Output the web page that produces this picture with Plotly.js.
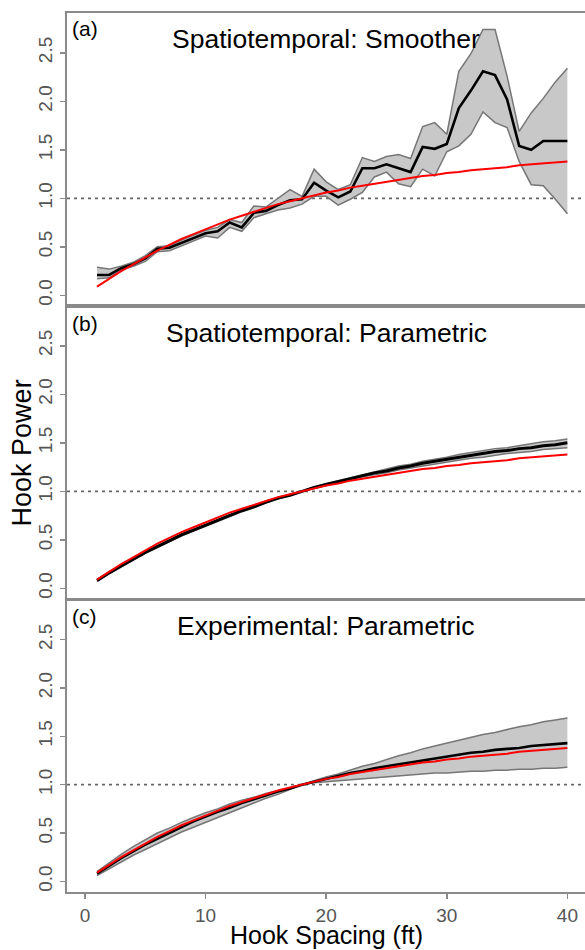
<!DOCTYPE html>
<html>
<head>
<meta charset="utf-8">
<script src="https://cdn.plot.ly/plotly-3.0.1.min.js"></script>
<style>html,body{margin:0;padding:0;background:#fff;}#chart{width:585px;height:950px;}</style>
</head>
<body>
<div id="chart"></div>
<script>
// ---------- data ----------
const hookSpacing = [1,2,3,4,5,6,7,8,9,10,11,12,13,14,15,16,17,18,19,20,
                     21,22,23,24,25,26,27,28,29,30,31,32,33,34,35,36,37,38,39,40];

// reference (red) curve, same in all panels
const refCurve = [0.09,0.17,0.25,0.32,0.39,0.46,0.52,0.58,0.63,0.68,0.73,0.78,0.82,0.86,0.90,0.94,0.97,1.00,1.03,1.06,
                  1.08,1.11,1.13,1.15,1.17,1.19,1.21,1.23,1.24,1.26,1.27,1.29,1.30,1.31,1.32,1.34,1.35,1.36,1.37,1.38];

// (a) Spatiotemporal: Smoother
const smoothFit   = [0.21,0.21,0.28,0.32,0.38,0.48,0.49,0.54,0.59,0.64,0.66,0.75,0.70,0.85,0.87,0.93,0.98,0.99,1.16,1.08,
                     1.01,1.07,1.31,1.31,1.35,1.31,1.27,1.53,1.51,1.56,1.93,2.11,2.31,2.27,2.02,1.54,1.50,1.59,1.59,1.59];
const smoothUpper = [0.29,0.27,0.30,0.34,0.41,0.50,0.51,0.57,0.62,0.67,0.70,0.78,0.75,0.92,0.91,1.00,1.09,1.02,1.30,1.17,
                     1.09,1.14,1.42,1.38,1.43,1.45,1.41,1.74,1.78,1.66,2.31,2.49,2.74,2.74,2.26,1.69,1.88,2.03,2.20,2.34];
const smoothLower = [0.17,0.18,0.26,0.30,0.35,0.45,0.46,0.51,0.56,0.61,0.59,0.70,0.66,0.80,0.84,0.88,0.90,0.94,1.02,1.02,
                     0.93,0.99,1.06,1.22,1.27,1.15,1.12,1.30,1.23,1.48,1.54,1.66,1.89,1.78,1.73,1.38,1.14,1.13,0.99,0.84];

// (b) Spatiotemporal: Parametric
const stParFit   = [0.08,0.16,0.23,0.30,0.37,0.43,0.49,0.55,0.60,0.65,0.70,0.75,0.80,0.84,0.89,0.93,0.96,1.00,1.04,1.07,
                    1.10,1.13,1.16,1.19,1.21,1.24,1.26,1.29,1.31,1.33,1.35,1.37,1.39,1.41,1.42,1.44,1.45,1.47,1.48,1.50];
const stParUpper = [0.09,0.17,0.24,0.31,0.38,0.44,0.50,0.56,0.61,0.66,0.71,0.76,0.80,0.85,0.89,0.93,0.97,1.00,1.04,1.08,
                    1.11,1.14,1.17,1.20,1.23,1.26,1.28,1.31,1.33,1.35,1.38,1.40,1.42,1.44,1.45,1.47,1.49,1.51,1.52,1.54];
const stParLower = [0.07,0.15,0.22,0.29,0.36,0.42,0.48,0.54,0.59,0.64,0.69,0.74,0.79,0.83,0.88,0.92,0.96,1.00,1.03,1.06,
                    1.09,1.12,1.15,1.17,1.19,1.22,1.24,1.26,1.28,1.30,1.32,1.34,1.35,1.37,1.39,1.40,1.41,1.43,1.44,1.45];

// (c) Experimental: Parametric
const expFit   = [0.08,0.16,0.24,0.31,0.38,0.44,0.50,0.56,0.62,0.67,0.72,0.76,0.81,0.85,0.89,0.93,0.96,1.00,1.03,1.06,
                  1.09,1.12,1.14,1.17,1.19,1.21,1.23,1.25,1.27,1.29,1.31,1.33,1.34,1.36,1.37,1.38,1.40,1.41,1.42,1.43];
const expUpper = [0.10,0.19,0.28,0.36,0.43,0.50,0.55,0.61,0.66,0.71,0.75,0.80,0.84,0.87,0.91,0.94,0.97,1.00,1.04,1.08,
                  1.11,1.15,1.19,1.22,1.26,1.30,1.33,1.37,1.40,1.43,1.46,1.49,1.52,1.54,1.57,1.60,1.62,1.65,1.67,1.69];
const expLower = [0.06,0.13,0.20,0.27,0.33,0.39,0.45,0.51,0.56,0.61,0.66,0.71,0.76,0.81,0.86,0.90,0.95,1.00,1.02,1.03,
                  1.04,1.05,1.06,1.07,1.08,1.09,1.10,1.11,1.12,1.12,1.13,1.14,1.14,1.15,1.15,1.16,1.16,1.17,1.17,1.18];

const panelTitles = ["Spatiotemporal: Smoother", "Spatiotemporal: Parametric", "Experimental: Parametric"];
const panelLabels = ["(a)", "(b)", "(c)"];
const yTickVals = [0, 0.5, 1, 1.5, 2, 2.5];
const yTickText = ["0.0", "0.5", "1.0", "1.5", "2.0", "2.5"];
const xTickVals = [0, 10, 20, 30, 40];
const xTickText = ["0", "10", "20", "30", "40"];
const refLevel = 1;
const xTitle = "Hook Spacing (ft)";
const yTitle = "Hook Power";

// ---------- styling ----------
const FONT = "Liberation Sans, Arial, Helvetica, sans-serif";
const AXIS_COL = "#8a8a8a";
const TICK_FONT_COL = "#555555";
const BAND_FILL = "#c8c8c8";
const BAND_LINE = "#767676";

const panels = [
  {fit: smoothFit, up: smoothUpper, lo: smoothLower, xa: "x",  ya: "y",  fitW: 2.6},
  {fit: stParFit,  up: stParUpper,  lo: stParLower,  xa: "x2", ya: "y2", fitW: 3.0},
  {fit: expFit,    up: expUpper,    lo: expLower,    xa: "x3", ya: "y3", fitW: 2.6}
];

const traces = [];
panels.forEach(p => {
  traces.push({x: hookSpacing, y: p.lo, xaxis: p.xa, yaxis: p.ya, mode: "lines",
               line: {color: BAND_LINE, width: 1.5}, hoverinfo: "skip", showlegend: false});
  traces.push({x: hookSpacing, y: p.up, xaxis: p.xa, yaxis: p.ya, mode: "lines", fill: "tonexty",
               fillcolor: BAND_FILL, line: {color: BAND_LINE, width: 1.5}, hoverinfo: "skip", showlegend: false});
  traces.push({x: hookSpacing, y: p.fit, xaxis: p.xa, yaxis: p.ya, mode: "lines",
               line: {color: "#000000", width: p.fitW}, showlegend: false});
  traces.push({x: hookSpacing, y: refCurve, xaxis: p.xa, yaxis: p.ya, mode: "lines",
               line: {color: "#ff0000", width: 2}, showlegend: false});
});

const xRange = [-1.49, 41.46];
const yRange = [-0.11, 2.91];

function xAxis(anchor, showLabels) {
  return {
    domain: [0, 1], anchor: anchor, range: xRange, showgrid: false, zeroline: false,
    showline: true, mirror: true, linecolor: AXIS_COL, linewidth: 2,
    tickmode: "array", tickvals: xTickVals, ticktext: xTickText,
    ticks: showLabels ? "outside" : "", ticklen: 5, tickwidth: 1.5, tickcolor: AXIS_COL,
    showticklabels: showLabels,
    tickfont: {family: FONT, size: 19, color: TICK_FONT_COL}
  };
}
function yAxis(anchor, domain) {
  return {
    domain: domain, anchor: anchor, range: yRange, showgrid: false, zeroline: false,
    showline: true, mirror: true, linecolor: AXIS_COL, linewidth: 2,
    tickmode: "array", tickvals: yTickVals, ticktext: yTickText,
    ticks: "outside", ticklen: 5, tickwidth: 1.5, tickcolor: AXIS_COL,
    tickangle: -90,
    tickfont: {family: FONT, size: 19, color: TICK_FONT_COL}
  };
}

const titleY = [0.9704, 0.636, 0.3026];
const labelY = [0.9818, 0.6473, 0.3134];
const annotations = [];
panelTitles.forEach((t, i) => {
  annotations.push({text: t, xref: "paper", yref: "paper", x: 0.5, y: titleY[i],
    xanchor: "center", yanchor: "middle", showarrow: false,
    font: {family: FONT, size: 26.5, color: "#000"}});
  annotations.push({text: panelLabels[i], xref: "paper", yref: "paper", x: 0.006, y: labelY[i],
    xanchor: "left", yanchor: "middle", showarrow: false,
    font: {family: FONT, size: 21, color: "#000"}});
});
annotations.push({text: yTitle, xref: "paper", yref: "paper", x: -0.087, y: 0.5,
  xanchor: "center", yanchor: "middle", textangle: -90, showarrow: false,
  font: {family: FONT, size: 27, color: "#000"}});
annotations.push({text: xTitle, xref: "paper", yref: "paper", x: 0.5, y: -0.0485,
  xanchor: "center", yanchor: "middle", showarrow: false, borderpad: 0,
  font: {family: FONT, size: 25, color: "#000"}});

const shapes = ["y", "y2", "y3"].map(ya => ({
  type: "line", xref: "paper", yref: ya, x0: 0, x1: 1, y0: refLevel, y1: refLevel,
  layer: "below", line: {color: "#666666", width: 1.7, dash: "3px,4px"}
}));

const layout = {
  width: 585, height: 950,
  margin: {l: 67, r: 0, t: 13, b: 58},
  paper_bgcolor: "#ffffff", plot_bgcolor: "#ffffff",
  showlegend: false,
  font: {family: FONT},
  xaxis: xAxis("y", false),
  xaxis2: xAxis("y2", false),
  xaxis3: xAxis("y3", true),
  yaxis: yAxis("x", [0.6667, 1]),
  yaxis2: yAxis("x2", [0.3333, 0.6667]),
  yaxis3: yAxis("x3", [0, 0.3322]),
  annotations: annotations,
  shapes: shapes
};

Plotly.newPlot("chart", traces, layout, {displayModeBar: false, staticPlot: true});
</script>
</body>
</html>
